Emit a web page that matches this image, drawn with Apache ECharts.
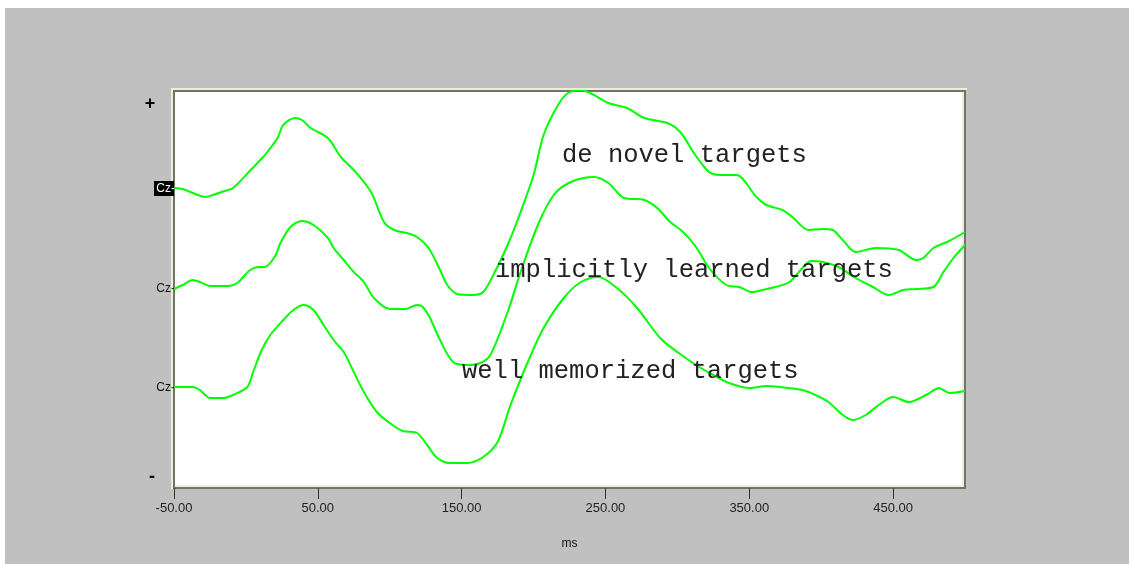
<!DOCTYPE html>
<html>
<head>
<meta charset="utf-8">
<script src="https://cdn.jsdelivr.net/npm/echarts@6/dist/echarts.min.js"></script>
<style>
  html, body { margin: 0; padding: 0; background: #fff; }
  #chart { width: 1129px; height: 564px; }
</style>
</head>
<body>
<div id="chart"></div>
<script>
// [ms, amplitude], amplitude relative to each Cz baseline
const deNovel = [[-50,0],[-44,-1],[-37,-5],[-28,-9],[-23,-7],[-17,-4],[-9,0],[2,16],[12,31],[17,40],[22,50],[26,63],[34,70],[39,68],[45,60],[57,50],[66,31],[75,18],[87,-4],[96,-34],[103,-42],[112,-45],[119,-49],[127,-60],[135,-82],[140,-97],[147,-106],[158,-107],[165,-104],[172,-87],[182,-57],[191,-24],[200,13],[207,53],[217,83],[224,95],[233,98],[242,93],[252,85],[265,80],[277,70],[293,65],[302,56],[311,36],[316,26],[322,16],[329,13],[341,13],[355,-9],[362,-17],[373,-22],[380,-29],[391,-42],[401,-41],[408,-42],[415,-52],[424,-64],[438,-60],[454,-62],[466,-72],[471,-70],[478,-60],[489,-53],[500,-44]]
const implicit = [[-50,0],[-44,4],[-37,9],[-32,7],[-25,3],[-12,3],[-6,6],[3,19],[9,22],[13,22],[20,32],[24,46],[31,62],[39,68],[47,64],[57,51],[61,41],[68,29],[75,17],[82,7],[89,-9],[100,-20],[111,-20],[119,-16],[123,-18],[128,-29],[135,-51],[144,-73],[154,-76],[163,-74],[170,-66],[182,-23],[191,17],[203,64],[214,94],[226,107],[242,112],[252,106],[263,91],[277,89],[286,81],[295,67],[304,57],[313,42],[322,21],[334,4],[343,2],[352,-3],[359,-1],[368,2],[378,7],[387,21],[393,28],[401,27],[412,22],[424,11],[436,2],[447,-6],[457,-1],[466,0],[478,2],[485,17],[492,31],[500,44]]
const wellMem = [[-50,0],[-37,0],[-32,-3],[-25,-11],[-16,-11],[-9,-8],[1,0],[5,15],[11,37],[17,52],[26,67],[33,77],[40,82],[47,77],[54,62],[61,47],[68,35],[75,15],[82,-5],[91,-25],[100,-36],[109,-44],[119,-46],[126,-58],[133,-71],[142,-76],[154,-76],[165,-70],[175,-55],[184,-18],[196,25],[207,59],[221,89],[233,105],[245,110],[258,99],[272,79],[288,49],[300,35],[313,22],[325,12],[336,4],[350,-1],[362,1],[371,0],[387,-3],[396,-8],[405,-15],[415,-28],[422,-33],[431,-28],[440,-18],[450,-10],[461,-15],[473,-8],[482,-1],[489,-6],[500,-4]]
const seriesNames = ['de novel targets', 'implicitly learned targets', 'well memorized targets']
const baselines = [300, 199, 101]
const xTicks = [-50, 50, 150, 250, 350, 450]

const chart = echarts.init(document.getElementById('chart'))
const dark = '#747466'
const light = '#efece0'

const curves = [deNovel, implicit, wellMem]
const series = curves.map((pts, i) => ({
    name: seriesNames[i],
    type: 'line',
    data: pts.map(p => [p[0], p[1] + baselines[i]]),
    showSymbol: false,
    smooth: 0.3,
    lineStyle: { color: '#00ff00', width: 2 },
    z: 3
}))

const option = {
    backgroundColor: '#c0c0c0',
    animation: false,
    grid: {
        left: 174, top: 91, right: 164, bottom: 76,
        show: true,
        backgroundColor: '#fff',
        borderColor: dark,
        borderWidth: 2
    },
    xAxis: {
        type: 'value',
        min: -50,
        max: 500,
        name: 'ms',
        nameLocation: 'middle',
        nameGap: 50,
        nameTextStyle: { fontFamily: 'Liberation Sans', fontSize: 12, color: '#111' },
        axisLine: { show: true, lineStyle: { color: dark, width: 2 } },
        axisTick: { show: true, length: 11, customValues: xTicks, lineStyle: { color: '#333', width: 1 } },
        axisLabel: {
            customValues: xTicks,
            margin: 14,
            fontFamily: 'Liberation Sans',
            fontSize: 13,
            color: '#222',
            formatter: v => v.toFixed(2)
        },
        splitLine: { show: false }
    },
    yAxis: {
        type: 'value',
        min: 0,
        max: 397,
        show: false,
        splitLine: { show: false }
    },
    series: series,
    graphic: [
        // white page edge around the grey panel
        { type: 'rect', shape: { x: 0, y: 0, width: 1129, height: 8 }, style: { fill: '#fff' }, silent: true },
        { type: 'rect', shape: { x: 0, y: 0, width: 5, height: 564 }, style: { fill: '#fff' }, silent: true },
        // 3d frame highlights
        { type: 'line', shape: { x1: 171, y1: 89, x2: 967, y2: 89 }, style: { stroke: light, lineWidth: 2 }, silent: true },
        { type: 'line', shape: { x1: 172, y1: 88, x2: 172, y2: 489 }, style: { stroke: light, lineWidth: 2 }, silent: true },
        { type: 'line', shape: { x1: 175, y1: 486, x2: 964, y2: 486 }, style: { stroke: light, lineWidth: 2 }, silent: true },
        { type: 'line', shape: { x1: 963, y1: 92, x2: 963, y2: 487 }, style: { stroke: light, lineWidth: 2 }, silent: true },
        // polarity marks
        { type: 'text', style: { text: '+', x: 150, y: 104, fill: '#000', font: 'bold 18px Liberation Sans', textAlign: 'center', textVerticalAlign: 'middle' } },
        { type: 'text', style: { text: '-', x: 152, y: 477, fill: '#000', font: 'bold 18px Liberation Sans', textAlign: 'center', textVerticalAlign: 'middle' } },
        // channel labels
        { type: 'rect', shape: { x: 154, y: 181, width: 20, height: 15 }, style: { fill: '#000' } },
        { type: 'text', style: { text: 'Cz-', x: 175, y: 189, fill: '#fff', font: '12px Liberation Sans', textAlign: 'right', textVerticalAlign: 'middle' } },
        { type: 'text', style: { text: 'Cz-', x: 175, y: 289, fill: '#111', font: '12px Liberation Sans', textAlign: 'right', textVerticalAlign: 'middle' } },
        { type: 'text', style: { text: 'Cz-', x: 175, y: 388, fill: '#111', font: '12px Liberation Sans', textAlign: 'right', textVerticalAlign: 'middle' } },
        // condition labels
        { type: 'text', z: 10, style: { text: seriesNames[0], x: 562, y: 155, fill: '#222', font: '25.5px Liberation Mono', textVerticalAlign: 'middle' } },
        { type: 'text', z: 10, style: { text: seriesNames[1], x: 495, y: 270, fill: '#222', font: '25.5px Liberation Mono', textVerticalAlign: 'middle' } },
        { type: 'text', z: 10, style: { text: seriesNames[2], x: 462, y: 371, fill: '#222', font: '25.5px Liberation Mono', textVerticalAlign: 'middle' } }
    ]
}
chart.setOption(option)
</script>
</body>
</html>
